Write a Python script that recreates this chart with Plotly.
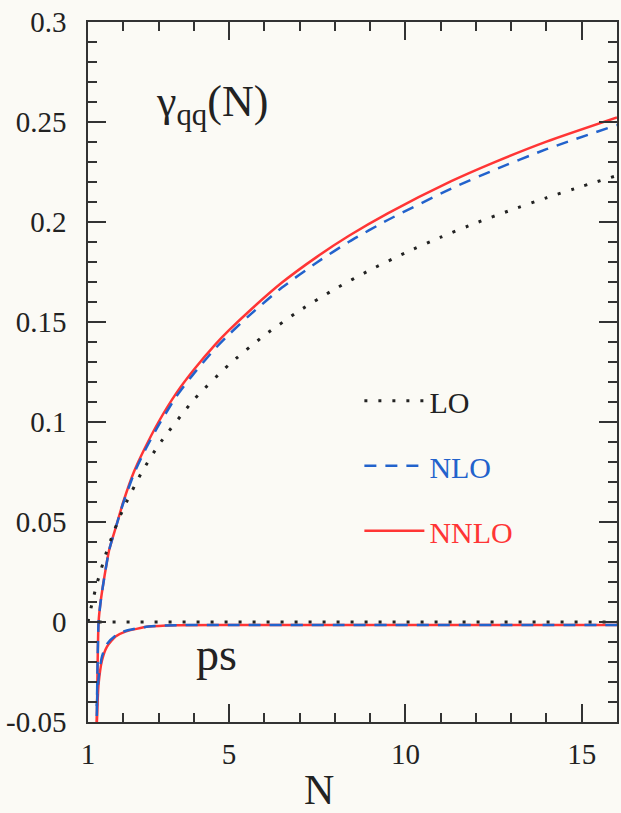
import plotly.graph_objects as go

# ---- data ----
N_lo = [1.0, 1.1, 1.25, 1.5, 1.75, 2.0, 2.5, 3.0, 4.0, 5.0, 6.0, 7.0, 8.0, 9.0, 10.0, 11.0, 12.0, 13.0, 14.0, 15.0, 16.0]
lo_qq = [0.0, 0.0082, 0.0189, 0.0337, 0.046, 0.0566, 0.0741, 0.0884, 0.1111, 0.1287, 0.1433, 0.1557, 0.1665,
         0.1760, 0.1846, 0.1924, 0.1995, 0.2060, 0.2121, 0.2178, 0.2232]

N_hi = [1.25, 1.27, 1.30, 1.35, 1.45, 1.6, 1.8, 2.0, 2.3, 2.6, 3.0, 3.5, 4.0, 4.6, 5.0, 5.6, 6.5, 7.5, 8.4,
        9.5, 11.3, 12.5, 14.0, 16.0]
nnlo_qq = [-0.050, -0.024, 0.000, 0.009, 0.021, 0.036, 0.048, 0.060, 0.075, 0.0865, 0.100, 0.1143, 0.1261, 0.1386,
           0.1459, 0.1559, 0.1697, 0.1827, 0.1931, 0.2043, 0.2204, 0.2297, 0.2402, 0.2523]
nlo_qq = [-0.047, -0.022, 0.000, 0.009, 0.021, 0.036, 0.048, 0.0595, 0.074, 0.0853, 0.0983, 0.1126, 0.1242, 0.1366,
          0.1438, 0.1537, 0.1672, 0.1799, 0.1901, 0.2010, 0.2167, 0.2259, 0.2364, 0.2485]

N_ps = [1.25, 1.3, 1.4, 1.54, 1.78, 2.06, 2.72, 3.5, 5.0, 8.0, 12.0, 16.0]
nnlo_ps = [-0.050, -0.031, -0.019, -0.0123, -0.0073, -0.0048, -0.0023, -0.0016, -0.0015, -0.0015, -0.0015, -0.0015]
nlo_ps = [-0.042, -0.028, -0.017, -0.011, -0.0068, -0.0045, -0.0022, -0.0016, -0.0015, -0.0015, -0.0015, -0.0015]

N_lops = [1.3, 16.0]
lo_ps = [0.0, 0.0]

y_ticks = [-0.05, 0, 0.05, 0.1, 0.15, 0.2, 0.25, 0.3]
y_ticktext = ["-0.05", "0", "0.05", "0.1", "0.15", "0.2", "0.25", "0.3"]
x_ticks = [1, 5, 10, 15]
x_ticktext = ["1", "5", "10", "15"]

RED = "#ff3535"
BLUE = "#2262cc"
BLACK = "#222222"
FONT = "Liberation Serif"
BG = "#fbfaf5"

fig = go.Figure()

# red (NNLO) drawn first, blue on top as in reference
fig.add_trace(go.Scatter(x=N_hi, y=nnlo_qq, mode="lines", line=dict(color=RED, width=2.5, shape="spline", smoothing=0.6),
                         name="<span style='color:%s'>NNLO</span>" % RED, legendrank=3, legendgroup="c"))
fig.add_trace(go.Scatter(x=N_ps, y=nnlo_ps, mode="lines", line=dict(color=RED, width=2.5, shape="spline", smoothing=0.6),
                         showlegend=False))
fig.add_trace(go.Scatter(x=N_hi, y=nlo_qq, mode="lines",
                         line=dict(color=BLUE, width=2.5, dash="12px,9px", shape="spline", smoothing=0.6),
                         name="<span style='color:%s'>NLO</span>" % BLUE, legendrank=2, legendgroup="b"))
fig.add_trace(go.Scatter(x=N_ps, y=nlo_ps, mode="lines",
                         line=dict(color=BLUE, width=2.5, dash="12px,9px", shape="spline", smoothing=0.6),
                         showlegend=False))
fig.add_trace(go.Scatter(x=N_lo, y=lo_qq, mode="lines",
                         line=dict(color=BLACK, width=3, dash="3px,11px", shape="spline", smoothing=0.6),
                         name="<span style='color:%s'>LO</span>" % BLACK, legendrank=1, legendgroup="a"))
fig.add_trace(go.Scatter(x=N_lops, y=lo_ps, mode="lines",
                         line=dict(color=BLACK, width=3, dash="3px,11px"),
                         showlegend=False))

axis_common = dict(showline=True, linecolor="#333333", linewidth=1.5, mirror="allticks",
                   ticks="inside", ticklen=18, tickwidth=1.5, tickcolor="#333333",
                   showgrid=False, zeroline=False, automargin=False, ticklabeloverflow="allow",
                   tickfont=dict(family=FONT, size=29, color="#222222"))

fig.update_xaxes(range=[1, 16], tickmode="array", tickvals=x_ticks, ticktext=x_ticktext,
                 minor=dict(tick0=1, dtick=1, ticks="inside", ticklen=9, tickwidth=1.5, tickcolor="#333333", showgrid=False),
                 ticklabelstandoff=5, **axis_common)
fig.update_yaxes(range=[-0.05, 0.3], tickmode="array", tickvals=y_ticks, ticktext=y_ticktext,
                 minor=dict(tick0=0, dtick=0.01, ticks="inside", ticklen=9, tickwidth=1.5, tickcolor="#333333", showgrid=False),
                 ticklabelstandoff=14, **axis_common)

fig.add_annotation(text="γ<sub>qq</sub>(N)", xref="paper", yref="paper", x=0.125, y=0.882,
                   xanchor="left", yanchor="middle", showarrow=False,
                   font=dict(family=FONT, size=44, color="#222222"))
fig.add_annotation(text="ps", xref="paper", yref="paper", x=0.2, y=0.096,
                   xanchor="left", yanchor="middle", showarrow=False,
                   font=dict(family=FONT, size=46, color="#222222"))
fig.add_annotation(text="N", xref="paper", yref="paper", x=0.437, y=-0.097,
                   xanchor="center", yanchor="middle", showarrow=False,
                   font=dict(family=FONT, size=42, color="#222222"))

fig.update_layout(width=621, height=813,
                  margin=dict(l=88, r=4, t=22, b=91, autoexpand=False),
                  paper_bgcolor=BG, plot_bgcolor=BG,
                  showlegend=True,
                  legend=dict(x=0.513, y=0.496, xanchor="left", yanchor="top", bgcolor="rgba(0,0,0,0)",
                              font=dict(family=FONT, size=30), traceorder="grouped",
                              tracegroupgap=23, itemwidth=60))

# remove the page's default body margin so the 621x813 figure fills the window exactly
fig.write_html("out.html", config={"displayModeBar": False},
               post_script="document.body.style.margin='0';document.body.style.background='%s';" % BG)
